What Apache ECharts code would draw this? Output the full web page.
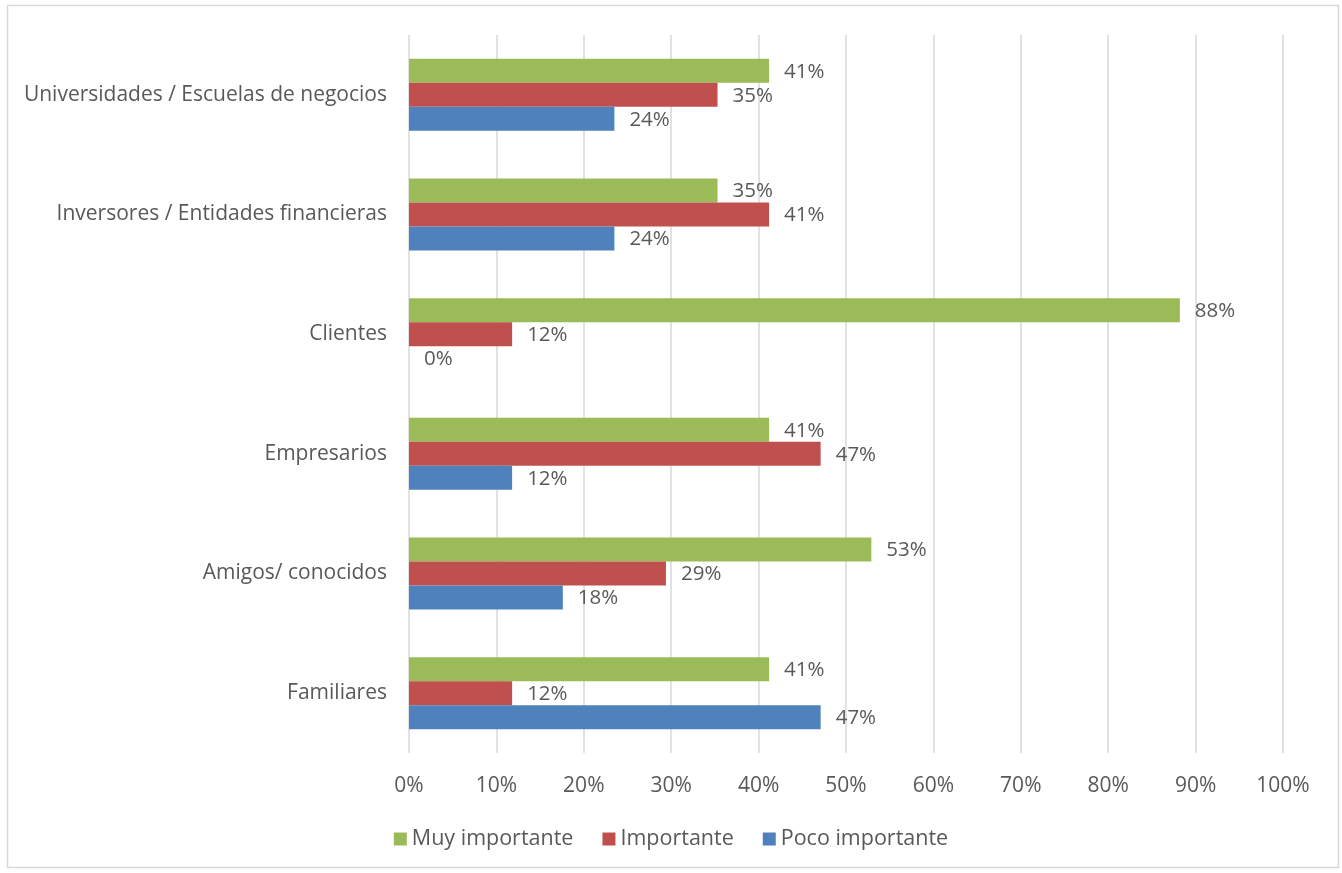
<!DOCTYPE html>
<html>
<head>
<meta charset="utf-8">
<script src="https://cdn.jsdelivr.net/npm/echarts@6/dist/echarts.min.js"></script>
<style>
html,body{margin:0;padding:0;background:#fff;}
#c{width:1342px;height:873px;}
</style>
</head>
<body>
<div id="c"></div>
<script>
const categories = ['Familiares', 'Amigos/ conocidos', 'Empresarios', 'Clientes', 'Inversores / Entidades financieras', 'Universidades / Escuelas de negocios'];
const seriesNames = ['Muy importante', 'Importante', 'Poco importante'];
const muyImportante = [41.2, 52.9, 41.2, 88.2, 35.3, 41.2];
const importante = [11.8, 29.4, 47.1, 11.8, 41.2, 35.3];
const pocoImportante = [47.1, 17.6, 11.8, 0, 23.5, 23.5];
const xTicks = [0, 10, 20, 30, 40, 50, 60, 70, 80, 90, 100];

const colors = {'Muy importante': '#9BBB59', 'Importante': '#C0504D', 'Poco importante': '#4F81BD'};
const font = '"Open Sans", sans-serif';
const txt = '#595959';
const fs = 20.5;

function mk(name, data) {
  return {
    name: name, type: 'bar', data: data, barWidth: 24, barGap: '0%',
    itemStyle: {color: colors[name]},
    label: {show: true, position: 'right', distance: 15, color: txt, fontFamily: font, fontSize: fs,
      offset: [0, 1], formatter: p => Math.round(p.value) + '%'}
  };
}

const chart = echarts.init(document.getElementById('c'));
chart.setOption({
  animation: false,
  textStyle: {fontFamily: font},
  grid: {left: 409, right: 59, top: 35, bottom: 120, containLabel: false},
  xAxis: {
    type: 'value', min: xTicks[0], max: xTicks[xTicks.length - 1], interval: 10,
    axisLine: {show: false}, axisTick: {show: false},
    splitLine: {lineStyle: {color: '#D9D9D9', width: 1.5}},
    axisLabel: {formatter: v => v + '%', color: txt, fontSize: 21, fontFamily: font, margin: 23}
  },
  yAxis: {
    type: 'category', data: categories,
    axisLine: {show: false}, axisTick: {show: false},
    axisLabel: {color: txt, fontSize: 21, fontFamily: font, margin: 22, padding: [2, 0, 0, 0]}
  },
  legend: {
    data: seriesNames, bottom: 18, left: 'center', itemWidth: 13, itemHeight: 13, itemGap: 29,
    icon: 'rect', textStyle: {color: txt, fontSize: 21.5, fontFamily: font, padding: [0, 0, 0, 0]}
  },
  graphic: [{type: 'rect', shape: {x: 7.5, y: 5.5, width: 1331, height: 862}, style: {fill: 'none', stroke: '#D9D9D9', lineWidth: 1.5}, silent: true}],
  series: [mk('Muy importante', muyImportante), mk('Importante', importante), mk('Poco importante', pocoImportante)]
});
</script>
</body>
</html>
